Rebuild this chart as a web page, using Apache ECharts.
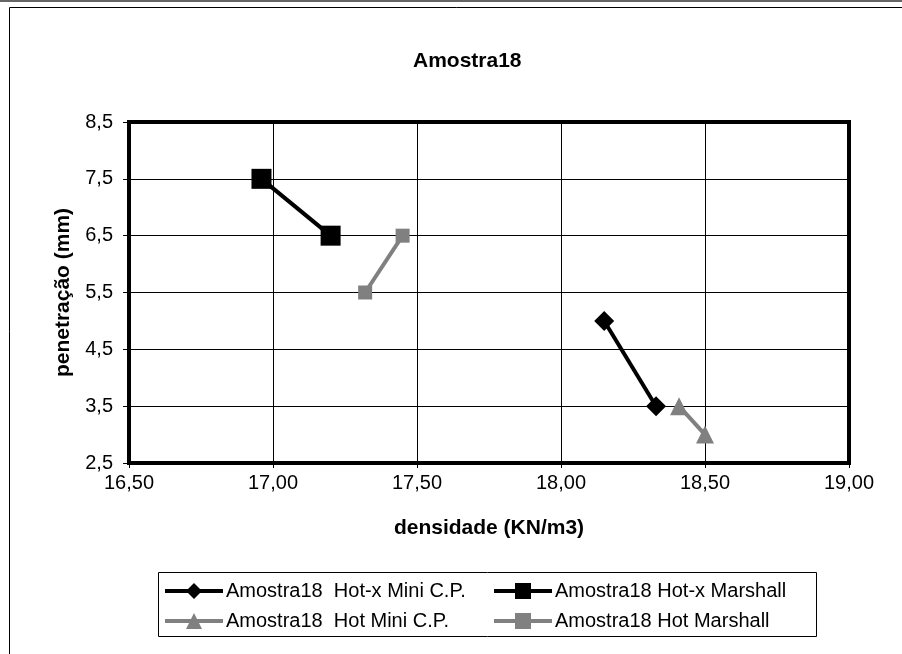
<!DOCTYPE html>
<html><head><meta charset="utf-8">
<script src="https://cdn.jsdelivr.net/npm/echarts@6/dist/echarts.min.js"></script>
<style>html,body{margin:0;padding:0;background:#fff}#c{width:902px;height:654px}</style>
</head><body><div id="c"></div>
<script>
const titleText = 'Amostra18';
const xName = 'densidade (KN/m3)';
const yName = 'penetração (mm)';
const seriesNames = ['Amostra18  Hot-x Mini C.P.', 'Amostra18 Hot-x Marshall', 'Amostra18  Hot Mini C.P.', 'Amostra18 Hot Marshall'];
const hotxMiniCP = [[18.15, 5.0], [18.33, 3.5]];
const hotxMarshall = [[16.96, 7.5], [17.20, 6.5]];
const hotMiniCP = [[18.41, 3.5], [18.50, 3.0]];
const hotMarshall = [[17.32, 5.5], [17.45, 6.5]];
const xMin = 16.5, xMax = 19.0, xStep = 0.5;
const yMin = 2.5, yMax = 8.5, yStep = 1;

const font = 'Liberation Sans, Arial, sans-serif';
const chart = echarts.init(document.getElementById('c'), null, {renderer: 'canvas'});
function mk(name, data, color, symbol, size) {
  return {name, type: 'line', data, color, symbol, symbolSize: size, showSymbol: true,
    lineStyle: {color, width: 4}, itemStyle: {color}, z: 5, animation: false};
}
function lg(name, left, top) {
  return {data: [name], left, top, itemWidth: 58, itemHeight: 20, itemGap: 0, padding: 0,
    lineStyle: {width: 4}, symbolKeepAspect: true,
    textStyle: {fontFamily: font, fontSize: 20, color: '#000', padding: [0, 0, 0, -2]}, selectedMode: false};
}
chart.setOption({
  animation: false,
  backgroundColor: '#fff',
  title: {text: titleText, left: 413, top: 51, padding: 0, textStyle: {fontFamily: font, fontSize: 21, fontWeight: 'bold', color: '#000'}},
  grid: {left: 129, top: 122, width: 720, height: 341, show: true, borderColor: '#000', borderWidth: 4, containLabel: false},
  xAxis: {type: 'value', min: xMin, max: xMax, interval: xStep,
    name: xName, nameLocation: 'middle', nameGap: 55,
    nameTextStyle: {fontFamily: font, fontSize: 21, fontWeight: 'bold', color: '#000'},
    axisLine: {show: true, lineStyle: {color: '#000', width: 4}},
    axisTick: {show: true, length: 5, lineStyle: {color: '#000', width: 1}},
    axisLabel: {fontFamily: font, fontSize: 20, color: '#000', margin: 10, formatter: v => v.toFixed(2).replace('.', ',')},
    splitLine: {show: true, lineStyle: {color: '#000', width: 1}}},
  yAxis: {type: 'value', min: yMin, max: yMax, interval: yStep,
    name: yName, nameLocation: 'middle', nameGap: 55, nameRotate: 90,
    nameTextStyle: {fontFamily: font, fontSize: 21, fontWeight: 'bold', color: '#000'},
    axisLine: {show: true, lineStyle: {color: '#000', width: 4}},
    axisTick: {show: true, length: 6, lineStyle: {color: '#000', width: 1}},
    axisLabel: {fontFamily: font, fontSize: 20, color: '#000', margin: 16, formatter: v => v.toFixed(1).replace('.', ',')},
    splitLine: {show: true, lineStyle: {color: '#000', width: 1}}},
  legend: [lg(seriesNames[0], 163, 581), lg(seriesNames[1], 492, 581), lg(seriesNames[2], 163, 611), lg(seriesNames[3], 492, 611)],
  series: [
    mk(seriesNames[0], hotxMiniCP, '#000000', 'diamond', 20),
    mk(seriesNames[1], hotxMarshall, '#000000', 'rect', 20),
    mk(seriesNames[2], hotMiniCP, '#808080', 'triangle', 18),
    mk(seriesNames[3], hotMarshall, '#808080', 'rect', 14)
  ],
  graphic: [
    {type: 'rect', shape: {x: 0, y: 0, width: 902, height: 2}, style: {fill: '#666'}, silent: true},
    {type: 'rect', shape: {x: 9.5, y: 7.5, width: 1000, height: 1000}, style: {fill: 'none', stroke: '#000', lineWidth: 1}, silent: true, z: -1},
    {type: 'rect', shape: {x: 158.5, y: 572.5, width: 658, height: 64}, style: {fill: 'none', stroke: '#000', lineWidth: 1}, silent: true}
  ]
});
</script></body></html>
